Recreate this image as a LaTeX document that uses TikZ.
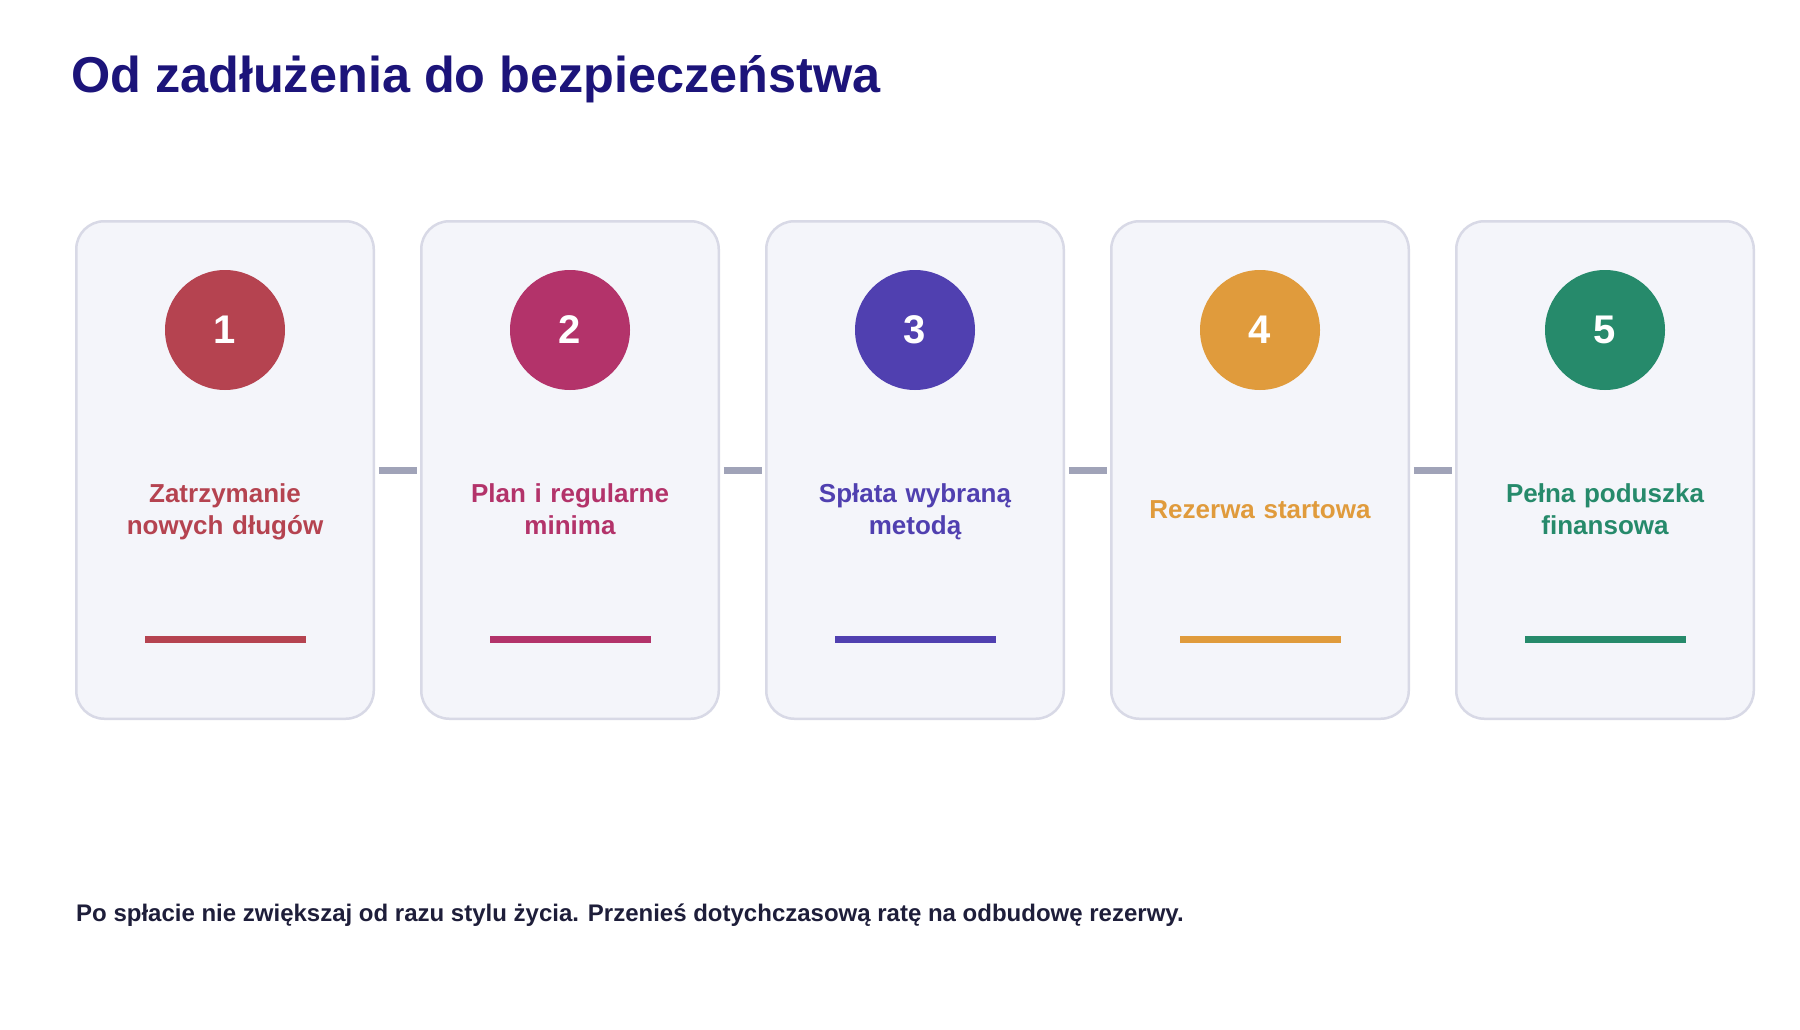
\documentclass[tikz,border=0pt]{standalone}
\usepackage{fontspec}
\setmainfont{Liberation Sans}
\definecolor{titlec}{RGB}{28,20,122}
\definecolor{bodyc}{RGB}{30,30,58}
\definecolor{cardfill}{RGB}{244,245,250}
\definecolor{cardline}{RGB}{216,217,230}
\definecolor{connc}{RGB}{160,163,184}
\definecolor{cA}{RGB}{181,67,80}
\definecolor{cB}{RGB}{179,51,106}
\definecolor{cC}{RGB}{80,64,176}
\definecolor{cD}{RGB}{224,155,60}
\definecolor{cE}{RGB}{38,138,107}
\tikzset{
  card/.style={draw=cardline, fill=cardfill, line width=2.5pt, rounded corners=28pt,
    minimum width=297.5pt, minimum height=497.5pt, outer sep=0pt, inner sep=0pt},
  numcirc/.style={circle, fill=#1, minimum size=120pt, inner sep=0pt, text=white,
    font=\fontsize{40}{44}\selectfont\bfseries},
  steplabel/.style={text=#1, align=center, text width=280pt, inner sep=0pt,
    font=\fontsize{26}{32}\selectfont\bfseries},
  accentbar/.style={fill=#1, minimum width=161pt, minimum height=7pt, inner sep=0pt},
  conn/.style={draw=connc, line width=7pt, shorten <=5pt, shorten >=4.5pt}
}
\begin{document}
\begin{tikzpicture}[x=1pt,y=-1pt]
\path[use as bounding box, fill=white] (0,0) rectangle (1800,1030);
\node[anchor=base west, text=titlec, inner sep=0pt, font=\fontsize{50.4}{56}\selectfont\bfseries] (title) at (71,93) {Od zadłużenia do bezpieczeństwa};
\foreach \i/\x/\c/\t in {1/225/cA/{\strut Zatrzymanie\\nowych długów\strut},
                         2/570/cB/{\strut Plan i regularne\\minima\strut},
                         3/915/cC/{\strut Spłata wybraną\\metodą\strut},
                         4/1260/cD/{\strut Rezerwa startowa\strut},
                         5/1605/cE/{\strut Pełna poduszka\\finansowa\strut}} {
  \node[card] (card\i) at (\x,470) {};
  \node[numcirc=\c] (circ\i) at (\x,330) {\i};
  \node[steplabel=\c] (lab\i) at (\x,512.5) {\t};
  \node[accentbar=\c] (bar\i) at (\x,639.5) {};
}
\foreach \a/\b in {1/2,2/3,3/4,4/5} {
  \draw[conn] (card\a.east) -- (card\b.west);
}
\node[anchor=base west, text=bodyc, inner sep=0pt, font=\fontsize{24}{28}\selectfont\bfseries] (note) at (76,921) {Po spłacie nie zwiększaj od razu stylu życia. Przenieś dotychczasową ratę na odbudowę rezerwy.};
\end{tikzpicture}
\end{document}
